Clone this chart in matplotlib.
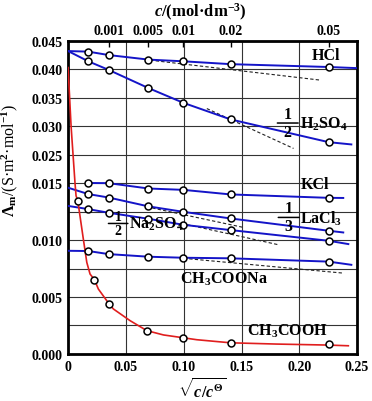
import numpy as np
import matplotlib
matplotlib.use('Agg')
import matplotlib.pyplot as plt

plt.rcParams['font.family'] = ['Liberation Serif', 'DejaVu Serif']
plt.rcParams['font.weight'] = 'bold'
plt.rcParams['mathtext.fontset'] = 'custom'
plt.rcParams['mathtext.rm'] = 'Liberation Serif:bold'
plt.rcParams['mathtext.it'] = 'Liberation Serif:italic:bold'
plt.rcParams['mathtext.bf'] = 'Liberation Serif:bold'

# sqrt(c/c0) of the measured points (as drawn)
x_pts = [0.0175, 0.035, 0.0695, 0.0998, 0.1405, 0.2254]

# measured molar conductivities
hcl = [0.0431, 0.0425, 0.0417, 0.0414, 0.0409, 0.0404]
h2so4 = [0.0414, 0.0399, 0.0367, 0.0341, 0.0312, 0.0272]
kcl = [0.01506, 0.0150, 0.01453, 0.01441, 0.01401, 0.01371]
lacl3 = [0.01404, 0.01374, 0.01296, 0.01248, 0.0119, 0.01082]
na2so4 = [0.01272, 0.0124, 0.01187, 0.01134, 0.01088, 0.00994]
ch3coona = [0.00904, 0.00877, 0.00854, 0.00845, 0.0084, 0.00811]

# acetic acid points
x_hac = [0.0084, 0.0228, 0.0355, 0.0685, 0.0998, 0.1405, 0.2254]
hac = [0.01345, 0.00652, 0.00439, 0.00200, 0.00143, 0.00096, 0.00088]

# acetic acid curve
x_hac_line = [0.0, 0.0026, 0.0043, 0.006, 0.0069, 0.0084, 0.0132, 0.0162, 0.0190,
              0.0228, 0.0262, 0.0355, 0.0392, 0.0537, 0.0681, 0.0825, 0.0970,
              0.1114, 0.1405, 0.18, 0.2254, 0.2424]
hac_line = [0.0403, 0.030, 0.025, 0.015, 0.01389, 0.01345, 0.01009, 0.00804, 0.00702,
            0.00652, 0.00570, 0.00439, 0.00395, 0.00292, 0.00205, 0.00167, 0.00146,
            0.00125, 0.00098, 0.00087, 0.00078, 0.00072]

# start (x=0) and end values of the fitted blue lines
curves = {
    'HCl': ([0.0] + x_pts + [0.25], [0.0432] + hcl + [0.0402]),
    'H2SO4': ([0.0] + x_pts + [0.245], [0.0432] + h2so4 + [0.0268]),
    'KCl': (x_pts + [0.238], kcl + [0.0137]),
    'LaCl3': ([0.0] + x_pts + [0.238], [0.0146] + lacl3 + [0.01067]),
    'Na2SO4': ([0.0] + x_pts + [0.2424], [0.0130] + na2so4 + [0.00965]),
    'CH3COONa': ([0.0] + x_pts + [0.245], [0.00906] + ch3coona + [0.00783]),
}
points = [hcl, h2so4, kcl, lacl3, na2so4, ch3coona]

# limiting-law dashed lines
dashed = [
    ([0.071, 0.218], [0.0416, 0.0381]),
    ([0.12, 0.195], [0.0331, 0.0261]),
    ([0.0681, 0.1518], [0.01292, 0.01111]),
    ([0.0984, 0.182], [0.01146, 0.00959]),
    ([0.10, 0.238], [0.0084, 0.0071]),
]

top_pos = [0.035, 0.0695, 0.0998, 0.1405, 0.2254]
top_labels = ['0.001', '0.005', '0.01', '0.02', '0.05']


# broken y axis: 0-0.015 stretched, 0.015-0.025 squeezed to one step
def fwd(v):
    v = np.asarray(v, dtype=float)
    return np.where(v <= 0.015, v / 0.0025,
                    np.where(v <= 0.025, 6 + (v - 0.015) / 0.01, 7 + (v - 0.025) / 0.005))


def inv(p):
    p = np.asarray(p, dtype=float)
    return np.where(p <= 6, p * 0.0025,
                    np.where(p <= 7, 0.015 + (p - 6) * 0.01, 0.025 + (p - 7) * 0.005))


blue = '#1414c8'
red = '#e01e1e'
fs_lab = 11.5

fig = plt.figure(figsize=(3.72, 4.02), dpi=100)
ax = fig.add_axes([0.183, 0.117, 0.777, 0.779])
ax.set_yscale('function', functions=(fwd, inv))

for xs, ys in dashed:
    ax.plot(xs, ys, color='#222222', lw=0.8, ls=(0, (3, 2)), zorder=3)

for name, (xs, ys) in curves.items():
    ax.plot(xs, ys, color=blue, lw=1.4, zorder=4)
for ys in points:
    ax.plot(x_pts, ys, 'o', ms=5, mfc='white', mec='black', mew=1.1, zorder=5)

ax.plot(x_hac_line, hac_line, color=red, lw=1.2, zorder=4)
ax.plot(x_hac, hac, 'o', ms=5, mfc='white', mec='black', mew=1.1, zorder=5)

ax.set_xlim(0, 0.25)
ax.set_ylim(0, 0.045)
ax.set_xticks([0, 0.05, 0.10, 0.15, 0.20, 0.25])
ax.set_xticklabels(['0', '0.05', '0.10', '0.15', '0.20', '0.25'])
yt = [0, 0.0025, 0.005, 0.0075, 0.010, 0.0125, 0.015, 0.025, 0.030, 0.035, 0.040, 0.045]
ax.set_yticks(yt)
ax.set_yticklabels(['0.000', '', '0.005', '', '0.010', '', '0.015',
                    '0.025', '0.030', '0.035', '0.040', '0.045'])
ax.tick_params(length=0, labelsize=10, pad=4)
ax.grid(True, color='#333333', lw=0.8)
for s in ax.spines.values():
    s.set_linewidth(2)

top = ax.secondary_xaxis('top')
top.set_xticks(top_pos)
top.set_xticklabels(top_labels)
top.tick_params(direction='in', length=4, width=1, labelsize=10, pad=3)
fig.text(0.54, 0.968, r'$c$/(mol·dm$^{-3}$)', fontsize=12, ha='center', va='center')

ax.set_ylabel(r'$\mathit{\Lambda}_{\mathrm{m}}$/(S·m$^2$·mol$^{-1}$)', fontsize=11.5)
ax.yaxis.set_label_coords(-0.165, 0.62)
ax.set_xlabel(r'$\sqrt{c/c^{\Theta}}$', fontsize=11.5)
ax.xaxis.set_label_coords(0.464, -0.075)

lab = dict(fontweight='bold', zorder=6)


def frac_label(x, y, den, rest, bw=15, dy=6.5, fs=fs_lab):
    # "1/den" stacked fraction followed by a formula; (x, y) is the left end of the bar
    ax.annotate('1', (x, y), xytext=(bw / 2, dy), textcoords='offset points',
                ha='center', va='center', fontsize=fs, **lab)
    ax.annotate(den, (x, y), xytext=(bw / 2, -dy), textcoords='offset points',
                ha='center', va='center', fontsize=fs, **lab)
    ax.annotate('', (x, y), xytext=(bw, 0), textcoords='offset points',
                arrowprops=dict(arrowstyle='-', lw=1.1, color='black', shrinkA=0, shrinkB=0))
    ax.annotate(rest, (x, y), xytext=(bw + 1, 0), textcoords='offset points',
                ha='left', va='center', fontsize=fs_lab, **lab)


ax.text(0.2234, 0.0425, 'HCl', ha='center', va='center', fontsize=fs_lab, **lab)
ax.text(0.2138, 0.0149, 'KCl', ha='center', va='center', fontsize=fs_lab, **lab)
frac_label(0.181, 0.03056, '2', r'H$_2$SO$_4$')
frac_label(0.1818, 0.01199, '3', r'LaCl$_3$')
frac_label(0.0349, 0.01146, '2', r'Na$_2$SO$_4$', bw=14, dy=5, fs=10)
ax.text(0.1346, 0.00664, r'CH$_3$COONa', ha='center', va='center', fontsize=fs_lab, **lab)
ax.text(0.19, 0.00204, r'CH$_3$COOH', ha='center', va='center', fontsize=fs_lab, **lab)

fig.savefig('out.png', dpi=100)
